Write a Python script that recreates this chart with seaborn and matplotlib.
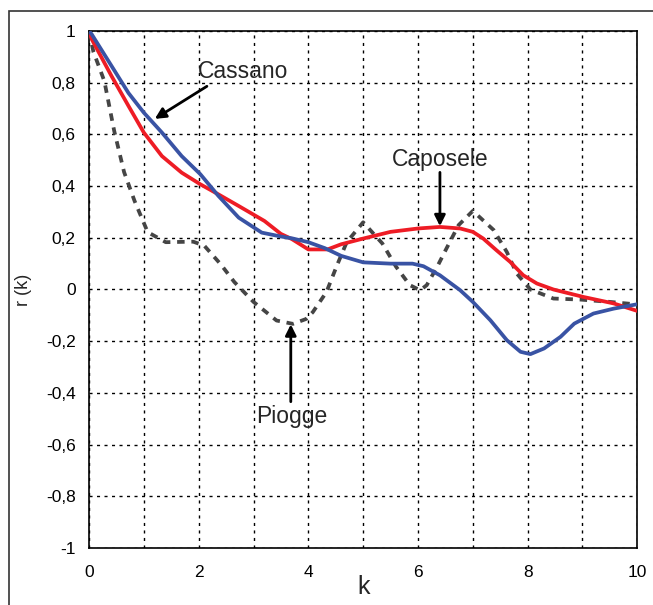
import matplotlib
matplotlib.use("Agg")
import matplotlib.pyplot as plt
import matplotlib.ticker as mticker
from matplotlib.patches import Rectangle
import seaborn as sns

# Cassano (blue)
cassano_k = [0, 0.05, 0.41, 0.72, 1.0, 1.33, 1.69, 2.03, 2.36, 2.73, 3.15, 3.5, 3.7, 4.0, 4.3, 4.6,
             5.0, 5.5, 5.9, 6.1, 6.4, 6.77, 7.0, 7.32, 7.62, 7.87, 8.05, 8.3, 8.6, 8.85, 9.2, 9.57, 10]
cassano_r = [1.0, 0.987, 0.865, 0.76, 0.684, 0.607, 0.516, 0.446, 0.362, 0.278, 0.22, 0.205, 0.198, 0.183, 0.16, 0.13,
             0.105, 0.10, 0.10, 0.09, 0.055, -0.003, -0.048, -0.119, -0.196, -0.241, -0.25, -0.228, -0.183, -0.132,
             -0.093, -0.074, -0.057]

# Caposele (red)
caposele_k = [0, 0.05, 0.41, 0.72, 1.0, 1.33, 1.69, 2.03, 2.36, 2.73, 3.2, 3.5, 3.7, 4.0, 4.35, 4.6,
              5.0, 5.5, 6.0, 6.4, 6.77, 7.0, 7.19, 7.43, 7.68, 7.92, 8.17, 8.47, 9.02, 9.57, 10]
caposele_r = [1.0, 0.968, 0.826, 0.71, 0.607, 0.516, 0.452, 0.407, 0.368, 0.323, 0.265, 0.215, 0.195, 0.155, 0.155, 0.175,
              0.197, 0.223, 0.236, 0.242, 0.236, 0.223, 0.197, 0.152, 0.107, 0.055, 0.023, 0.0, -0.029, -0.054, -0.083]

# Piogge (dashed grey)
piogge_k = [0, 0.08, 0.28, 0.46, 0.64, 0.83, 1.07, 1.4, 1.9, 2.1, 2.4, 2.65, 3.0, 3.42, 3.72,
            3.96, 4.08, 4.33, 4.52, 4.7, 5.0, 5.35, 5.6, 5.85, 6.04, 6.16, 6.35, 6.52, 6.74,
            7.0, 7.38, 7.62, 7.8, 8.05, 8.47, 8.96, 9.5, 10]
piogge_r = [1.0, 0.92, 0.806, 0.613, 0.454, 0.343, 0.222, 0.183, 0.185, 0.17, 0.098, 0.029, -0.048, -0.12, -0.133,
            -0.114, -0.088, -0.01, 0.092, 0.183, 0.26, 0.178, 0.088, 0.017, -0.003, 0.017, 0.088, 0.159, 0.249,
            0.304, 0.23, 0.145, 0.062, 0.0, -0.035, -0.039, -0.048, -0.058]

x_major = [0, 2, 4, 6, 8, 10]
x_minor = [1, 3, 5, 7, 9]
y_ticks = [-1, -0.8, -0.6, -0.4, -0.2, 0, 0.2, 0.4, 0.6, 0.8, 1]

sns.set_style("white")
plt.rcParams["font.family"] = ["Liberation Sans", "DejaVu Sans"]

fig = plt.figure(figsize=(6.53, 6.05), dpi=100)
ax = fig.add_axes([0.1363, 0.0942, 0.8397, 0.8546])

# outer frame (cropped on right and bottom)
fig.patches.append(Rectangle((9 / 653, -0.1), 1.2, 0.982 + 0.1, transform=fig.transFigure,
                             fill=False, edgecolor="#333333", linewidth=1.2, clip_on=False))

sns.lineplot(x=piogge_k, y=piogge_r, ax=ax, color="#454545", linewidth=2.7,
             linestyle=(0, (2.0, 1.8)), zorder=3)
sns.lineplot(x=caposele_k, y=caposele_r, ax=ax, color="#ee1c25", linewidth=2.7, zorder=4)
sns.lineplot(x=cassano_k, y=cassano_r, ax=ax, color="#3953a4", linewidth=2.7, zorder=5)

ax.set_xlim(0, 10)
ax.set_ylim(-1, 1)
ax.set_xticks(x_major)
ax.set_xticks(x_minor, minor=True)
ax.set_yticks(y_ticks)
ax.yaxis.set_major_formatter(mticker.FuncFormatter(
    lambda v, p: ("%g" % round(v, 1)).replace(".", ",")))

ax.grid(True, which="both", axis="x", color="black", linewidth=1.0, linestyle=(0, (2.2, 3.2)))
ax.grid(True, which="major", axis="y", color="black", linewidth=1.0, linestyle=(0, (2.2, 3.2)))
ax.set_axisbelow(True)

for s in ax.spines.values():
    s.set_color("black")
    s.set_linewidth(1.2)

ax.tick_params(which="both", direction="inout", length=7, width=1.1, color="black",
               labelsize=12.5, labelcolor="black")
ax.tick_params(axis="y", pad=6)
ax.tick_params(axis="x", pad=9)

ax.set_xlabel("k", fontsize=18, labelpad=-4)
ax.set_ylabel("r (k)", fontsize=13, labelpad=10)

arrow = dict(arrowstyle="-|>", color="black", lw=2.0, mutation_scale=16, shrinkA=0, shrinkB=0)
ax.annotate("", xy=(1.2, 0.66), xytext=(2.15, 0.786), arrowprops=arrow)
ax.text(2.81, 0.844, "Cassano", fontsize=16.5, ha="center", va="center")
ax.annotate("", xy=(6.4, 0.245), xytext=(6.4, 0.453), arrowprops=arrow)
ax.text(6.4, 0.504, "Caposele", fontsize=16.5, ha="center", va="center")
ax.annotate("", xy=(3.68, -0.135), xytext=(3.68, -0.434), arrowprops=arrow)
ax.text(3.7, -0.49, "Piogge", fontsize=16.5, ha="center", va="center")

fig.savefig("out.png", dpi=100)
